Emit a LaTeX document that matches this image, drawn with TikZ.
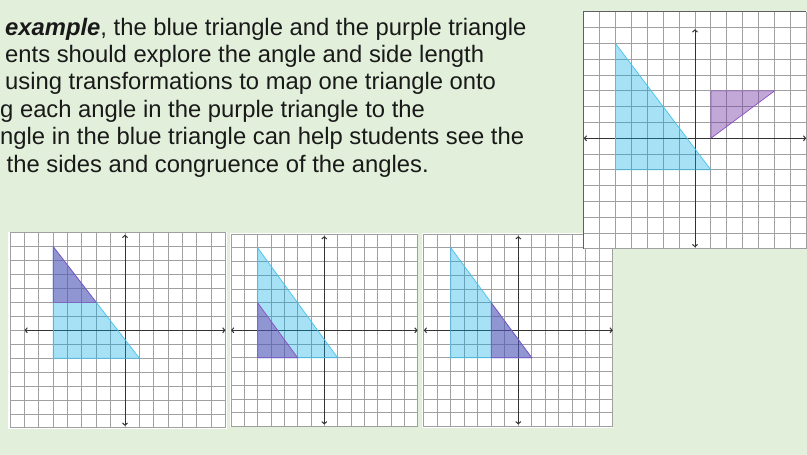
\documentclass[tikz,border=0pt]{standalone}
\usepackage{fontspec}
\setmainfont{Liberation Sans}
\usepackage{xcolor}
\usetikzlibrary{arrows.meta}

\definecolor{bggreen}{HTML}{E2EFDA}
\definecolor{gridgray}{HTML}{A0A0A0}
\definecolor{axisgray}{HTML}{333333}
\definecolor{triblue}{HTML}{00AAE6}
\definecolor{blueedge}{HTML}{45C3EF}
\definecolor{tripurple}{HTML}{7030A0}
\definecolor{purpedge}{HTML}{8A50C4}

\begin{document}
\begin{tikzpicture}[
  >={Straight Barb[length=2.2pt,width=5pt]},
  gridline/.style={gridgray, line width=0.9pt},
  frame/.style={gray!75!black, line width=0.9pt},
  axis/.style={<->, axisgray, line width=1pt},
  bluetri/.style={fill=triblue, fill opacity=0.35, draw=blueedge, line width=0.7pt},
  purptri/.style={fill=tripurple, fill opacity=0.42, draw=purpedge, line width=0.7pt},
  intro/.style={anchor=north west, align=left, inner sep=0pt, text=black!90,
                font=\fontsize{23.8}{27.4}\selectfont},
]

% page: light green slide background
\fill[bggreen] (0,0) rectangle (807pt,455pt);
\useasboundingbox (0,0) rectangle (807pt,455pt);

% paragraph, cut at the left edge
\node[intro] (intro) at (5pt,437.4pt)
  {\textbf{\textit{example}}, the blue triangle and the purple triangle\\
   ents should explore the angle and side length\\
   using transformations to map one triangle onto\\
   \hspace*{-5pt}g each angle in the purple triangle to the\\
   \hspace*{-5pt}ngle in the blue triangle can help students see the\\
   \hspace*{1.5pt}the sides and congruence of the angles.};

% first plane: purple on the top of the blue triangle
\begin{scope}[shift={(125pt,124.7pt)}, x=14.36pt, y=13.95pt]
  \fill[white] (-8.13,-7.06) rectangle (7.08,7.06);
  \foreach \i in {-8,...,7} {\draw[gridline] (\i,-7) -- (\i,7);}
  \foreach \j in {-7,...,7} {\draw[gridline] (-8,\j) -- (7,\j);}
  \draw[axis] (-7,0) -- (7,0);
  \draw[axis] (0,-6.85) -- (0,6.85);
  \draw[bluetri] (-5,6) -- (-5,-2) -- (1,-2) -- cycle;
  \draw[purptri] (-5,6) -- (-5,2) -- (-2,2) -- cycle;
\end{scope}

% second plane: purple in the bottom left corner
\begin{scope}[shift={(324.3pt,124.7pt)}, x=13.33pt, y=13.75pt]
  \fill[white] (-7.07,-7.05) rectangle (7.05,7.05);
  \foreach \i in {-7,...,7} {\draw[gridline] (\i,-7) -- (\i,7);}
  \foreach \j in {-7,...,7} {\draw[gridline] (-7,\j) -- (7,\j);}
  \draw[axis] (-7,0) -- (7,0);
  \draw[axis] (0,-6.85) -- (0,6.85);
  \draw[bluetri] (-5,6) -- (-5,-2) -- (1,-2) -- cycle;
  \draw[purptri] (-5,2) -- (-5,-2) -- (-2,-2) -- cycle;
\end{scope}

% third plane: purple in the bottom right corner
\begin{scope}[shift={(518.3pt,124.7pt)}, x=13.5pt, y=13.75pt]
  \fill[white] (-7.16,-7.08) rectangle (7.04,7.1);
  \foreach \i in {-7,...,7} {\draw[gridline] (\i,-7) -- (\i,7);}
  \foreach \j in {-7,...,7} {\draw[gridline] (-7,\j) -- (7,\j);}
  \draw[axis] (-7,0) -- (7,0);
  \draw[axis] (0,-6.85) -- (0,6.85);
  \draw[bluetri] (-5,6) -- (-5,-2) -- (1,-2) -- cycle;
  \draw[purptri] (-2,2) -- (-2,-2) -- (1,-2) -- cycle;
\end{scope}

% top right plane: the two triangles apart
\begin{scope}[shift={(695pt,316.7pt)}, x=15.9pt, y=15.8pt]
  \fill[white] (-7.07,-7.02) rectangle (7.1,8.03);
  \foreach \i in {-7,...,7} {\draw[gridline] (\i,-7) -- (\i,8);}
  \foreach \j in {-7,...,8} {\draw[gridline] (-7,\j) -- (7,\j);}
  \draw[frame] (-7,-7) -- (-7,8) -- (7,8);
  \draw[axis] (-7,0) -- (7,0);
  \draw[axis] (0,-6.9) -- (0,6.9);
  \draw[bluetri] (-5,6) -- (-5,-2) -- (1,-2) -- cycle;
  \draw[purptri] (1,0) -- (1,3) -- (5,3) -- cycle;
\end{scope}

\end{tikzpicture}
\end{document}
